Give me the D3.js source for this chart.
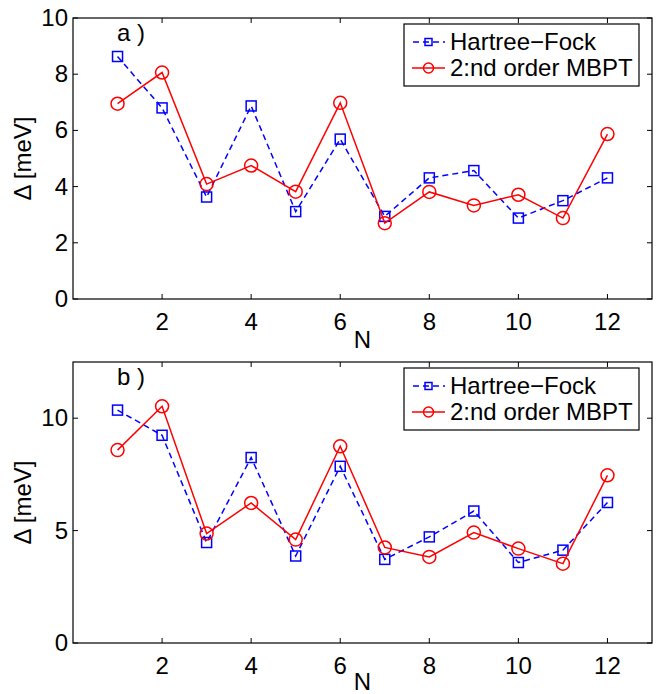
<!DOCTYPE html>
<html>
<head>
<meta charset="utf-8">
<script src="https://cdn.jsdelivr.net/npm/d3@7"></script>
<style>
  html, body { margin: 0; padding: 0; background: #fff; }
  svg { display: block; }
  text { font-family: "Liberation Sans", Arial, Helvetica, sans-serif; fill: #000; }
</style>
</head>
<body>
<svg id="chart" width="659" height="694"></svg>
<script>
// ---- Data ----
const N = [1, 2, 3, 4, 5, 6, 7, 8, 9, 10, 11, 12];
const seriesNames = ["Hartree\u2212Fock", "2:nd order MBPT"];
// Panel a)
const hfA   = [8.63, 6.80, 3.63, 6.87, 3.11, 5.69, 2.94, 4.31, 4.57, 2.88, 3.50, 4.31];
const mbptA = [6.95, 8.06, 4.09, 4.75, 3.82, 6.98, 2.70, 3.81, 3.33, 3.71, 2.88, 5.87];
// Panel b)
const hfB   = [10.36, 9.24, 4.47, 8.25, 3.87, 7.86, 3.72, 4.72, 5.87, 3.58, 4.13, 6.25];
const mbptB = [8.58, 10.53, 4.87, 6.23, 4.60, 8.75, 4.25, 3.83, 4.91, 4.20, 3.53, 7.46];
// Tick values
const xTicks = [2, 4, 6, 8, 10, 12];
const yTicksA = [0, 2, 4, 6, 8, 10];
const yTicksB = [0, 5, 10];
const panelLabels = ["a )", "b )"];

// ---- Drawing ----
const svg = d3.select("#chart");
const FS = 24;

function drawPanel(cfg) {
  const { top, bottom, yMax, yTicks, hf, mbpt, label, nOffset } = cfg;
  const left = 73, right = 652;
  const x = d3.scaleLinear().domain([0, 13]).range([left, right]);
  const y = d3.scaleLinear().domain([0, yMax]).range([bottom, top]);
  const g = svg.append("g");

  // ticks (inside, on all four sides)
  const tl = 5;
  xTicks.forEach(t => {
    g.append("line").attr("x1", x(t)).attr("x2", x(t)).attr("y1", bottom).attr("y2", bottom - tl)
      .attr("stroke", "#000").attr("stroke-width", 1);
    g.append("line").attr("x1", x(t)).attr("x2", x(t)).attr("y1", top).attr("y2", top + tl)
      .attr("stroke", "#000").attr("stroke-width", 1);
    g.append("text").attr("x", x(t)).attr("y", bottom + 31).attr("text-anchor", "middle")
      .attr("font-size", FS).text(t);
  });
  yTicks.forEach(t => {
    g.append("line").attr("x1", left).attr("x2", left + tl).attr("y1", y(t)).attr("y2", y(t))
      .attr("stroke", "#000").attr("stroke-width", 1);
    g.append("line").attr("x1", right).attr("x2", right - tl).attr("y1", y(t)).attr("y2", y(t))
      .attr("stroke", "#000").attr("stroke-width", 1);
    g.append("text").attr("x", left - 5).attr("y", y(t) + 8).attr("text-anchor", "end")
      .attr("font-size", FS).text(t);
  });
  // box
  g.append("rect").attr("x", left).attr("y", top).attr("width", right - left).attr("height", bottom - top)
    .attr("fill", "none").attr("stroke", "#000").attr("stroke-width", 1.2);

  // axis labels
  g.append("text").attr("x", x(6.5)).attr("y", bottom + nOffset).attr("text-anchor", "middle")
    .attr("font-size", FS).text("N");
  g.append("text").attr("transform", `translate(${31},${(top + bottom) / 2}) rotate(-90)`)
    .attr("text-anchor", "middle").attr("font-size", FS).text("\u0394 [meV]");

  // panel label
  g.append("text").attr("x", 117).attr("y", top + 23).attr("font-size", FS).text(label);

  const line = d3.line().x((d, i) => x(N[i])).y(d => y(d));

  // HF dashed blue with squares
  g.append("path").datum(hf).attr("d", line).attr("fill", "none").attr("stroke", "#0000ff")
    .attr("stroke-width", 1.5).attr("stroke-dasharray", "6,4");
  const sq = 10;
  g.selectAll(".sq").data(hf).enter().append("rect")
    .attr("x", (d, i) => x(N[i]) - sq / 2).attr("y", d => y(d) - sq / 2)
    .attr("width", sq).attr("height", sq).attr("fill", "none").attr("stroke", "#0000ff").attr("stroke-width", 1.5);

  // MBPT solid red with circles
  g.append("path").datum(mbpt).attr("d", line).attr("fill", "none").attr("stroke", "#ff0000")
    .attr("stroke-width", 1.5);
  g.selectAll(".ci").data(mbpt).enter().append("circle")
    .attr("cx", (d, i) => x(N[i])).attr("cy", d => y(d)).attr("r", 6.5)
    .attr("fill", "none").attr("stroke", "#ff0000").attr("stroke-width", 1.5);

  // legend
  const lx = 404, ly = top + 6, lw = 235, lh = 62;
  g.append("rect").attr("x", lx).attr("y", ly).attr("width", lw).attr("height", lh)
    .attr("fill", "#fff").attr("stroke", "#000").attr("stroke-width", 1.2);
  const r1 = ly + 18, r2 = ly + 44;
  g.append("line").attr("x1", 412).attr("x2", 445).attr("y1", r1).attr("y2", r1)
    .attr("stroke", "#0000ff").attr("stroke-width", 1.5).attr("stroke-dasharray", "6,4").attr("stroke-dashoffset", -1);
  g.append("rect").attr("x", 428.5 - 3.5).attr("y", r1 - 3.5).attr("width", 7).attr("height", 7)
    .attr("fill", "none").attr("stroke", "#0000ff").attr("stroke-width", 1.5);
  g.append("text").attr("x", 450).attr("y", r1 + 8).attr("font-size", FS).text(seriesNames[0]);
  g.append("line").attr("x1", 412).attr("x2", 445).attr("y1", r2).attr("y2", r2)
    .attr("stroke", "#ff0000").attr("stroke-width", 1.5);
  g.append("circle").attr("cx", 428.5).attr("cy", r2).attr("r", 5)
    .attr("fill", "none").attr("stroke", "#ff0000").attr("stroke-width", 1.5);
  g.append("text").attr("x", 450).attr("y", r2 + 8).attr("font-size", FS).text(seriesNames[1]);
}

drawPanel({ top: 18, bottom: 299, yMax: 10, yTicks: yTicksA, hf: hfA, mbpt: mbptA, label: panelLabels[0], nOffset: 49 });
drawPanel({ top: 362, bottom: 643, yMax: 12.5, yTicks: yTicksB, hf: hfB, mbpt: mbptB, label: panelLabels[1], nOffset: 47 });
</script>
</body>
</html>
